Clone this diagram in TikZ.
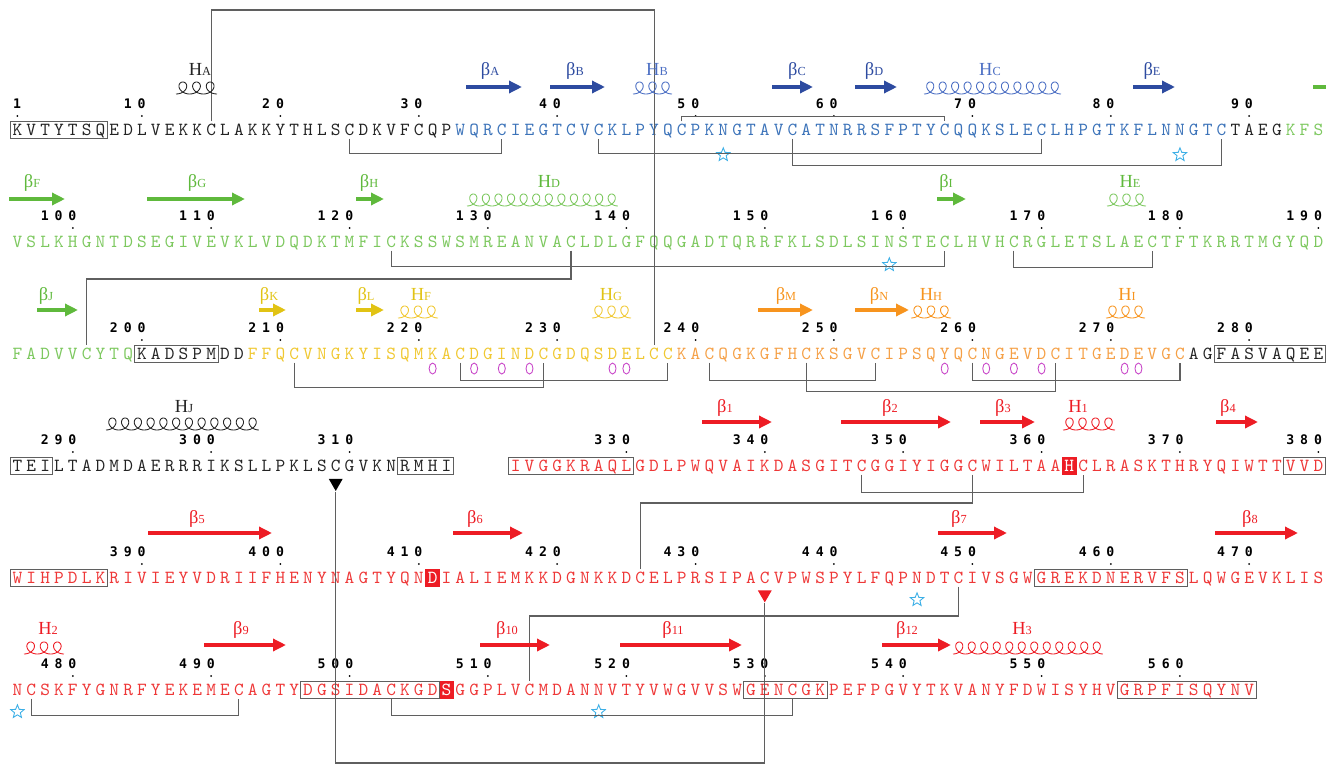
\documentclass[tikz,border=0pt]{standalone}
\usepackage{fontspec}
\newfontfamily\lblfont{Liberation Serif}
\newfontfamily\numfont{DejaVu Sans Mono}
\usetikzlibrary{arrows.meta}
\usetikzlibrary{shapes.geometric}
\usetikzlibrary{positioning}
\usetikzlibrary{fit}
\usetikzlibrary{backgrounds}

\definecolor{seqblack}{RGB}{35,35,35}
\definecolor{seqblue}{RGB}{60,115,185}
\definecolor{arrblue}{RGB}{45,75,160}
\definecolor{hlxblue}{RGB}{75,110,195}
\definecolor{seqgreen}{RGB}{125,200,95}
\definecolor{arrgreen}{RGB}{95,185,60}
\definecolor{seqyellow}{RGB}{240,200,50}
\definecolor{arryellow}{RGB}{225,195,20}
\definecolor{seqorange}{RGB}{245,160,70}
\definecolor{arrorange}{RGB}{247,148,30}
\definecolor{seqred}{RGB}{238,55,55}
\definecolor{arrred}{RGB}{237,28,36}
\definecolor{bondgray}{RGB}{95,95,95}
\definecolor{starblue}{RGB}{60,175,230}
\definecolor{ringpink}{RGB}{200,70,200}

% one node per residue, named r<number>, 95 residues per line
\newcount\rescount
\newcommand{\putseq}[3]{\rescount=#1\relax\def\seqcol{#2}\seqloop#3\relax}
\def\seqloop#1{%
  \ifx#1\relax\else
    \pgfmathtruncatemacro\seqidx{mod(\the\rescount-1,95)}%
    \pgfmathtruncatemacro\seqrow{(\the\rescount-1)/95}%
    \node[res, text=\seqcol] (r\the\rescount) at ({10.5+(\seqidx+0.5)*13.84},{130+112*\seqrow}) {#1};%
    \advance\rescount by 1\relax
    \expandafter\seqloop
  \fi}
\def\digbox#1{\ifx#1\relax\else\makebox[0.2768cm]{#1}\expandafter\digbox\fi}
\newcommand{\numlab}[1]{%
  \edef\numtmp{#1}%
  \pgfmathtruncatemacro\numidx{mod(\numtmp-1,95)}%
  \pgfmathtruncatemacro\numrow{(\numtmp-1)/95}%
  \node[numtxt] (n\numtmp) at ({10.5+(\numidx+1)*13.84},{104+112*\numrow}) {\expandafter\digbox\numtmp\relax};%
  \fill ({10.5+(\numidx+0.5)*13.84},{116+112*\numrow}) circle (1);}
% helix: from x1 to x2 on baseline y, n loops, colour
\newcommand{\hlx}[5]{%
  \pgfmathsetmacro\hlxa{(#2-#1)/(2*pi*#4)}%
  \pgfmathsetmacro\hlxend{2*pi*#4}%
  \pgfmathtruncatemacro\hlxn{36*#4}%
  \draw[#5, line width=0.5pt] plot[domain=0:\hlxend, samples=\hlxn, variable=\t]
    ({#1+\hlxa*\t+3.2*\hlxa*sin(\t r)}, {#3-6*(1-cos(\t r))});}
\newcommand{\sslow}[1]{{\fontsize{7}{8}\selectfont #1}}

\begin{document}
\begin{tikzpicture}[x=0.02cm, y=-0.02cm,
  res/.style={font=\ttfamily\fontsize{10.5}{12}\selectfont, inner sep=0, minimum width=0.2768cm, minimum height=0.33cm, text height=6.4pt, text depth=0pt},
  numtxt/.style={font=\numfont\bfseries\fontsize{7.5}{8}\selectfont, inner sep=0, anchor=east},
  sslab/.style={font=\lblfont\fontsize{10.5}{12}\selectfont, inner sep=0, anchor=base},
  strand/.style={line width=0.09cm, -{Triangle[length=0.26cm, width=0.24cm]}},
  bond/.style={draw=bondgray, line width=0.6pt},
  seqbox/.style={draw=bondgray, line width=0.6pt, inner sep=0},
  starmark/.style={star, star points=5, star point ratio=2.3, draw=starblue, line width=0.5pt, inner sep=0, minimum size=0.28cm},
  ring/.style={ellipse, draw=ringpink, line width=0.5pt, inner sep=0, minimum width=0.14cm, minimum height=0.22cm},
  tri/.style={regular polygon, regular polygon sides=3, shape border rotate=180, inner sep=0, minimum size=0.32cm}]
\useasboundingbox (0,0) rectangle (1340,767);

% sequence
\putseq{1}{seqblack}{KVTYTSQEDLVEKKCLAKKYTHLSCDKVFCQP}
\putseq{33}{seqblue}{WQRCIEGTCVCKLPYQCPKNGTAVCATNRRSFPTYCQQKSLECLHPGTKFLNNGTC}
\putseq{89}{seqblack}{TAEG}
\putseq{93}{seqgreen}{KFS}
\putseq{96}{seqgreen}{VSLKHGNTDSEGIVEVKLVDQDKTMFICKSSWSMREANVACLDLGFQQGADTQRRFKLSDLSINSTECLHVHCRGLETSLAECTFTKRRTMGYQD}
\putseq{191}{seqgreen}{FADVVCYTQ}
\putseq{200}{seqblack}{KADSPMDD}
\putseq{208}{seqyellow}{FFQCVNGKYISQMKACDGINDCGDQSDELCC}
\putseq{239}{seqorange}{KACQGKGFHCKSGVCIPSQYQCNGEVDCITGEDEVGC}
\putseq{276}{seqblack}{AGFASVAQEE}
\putseq{286}{seqblack}{TEILTADMDAERRRIKSLLPKLSCGVKNRMHI}
\putseq{322}{seqred}{IVGGKRAQLGDLPWQVAIKDASGITCGGIYIGGCWILTAA}
\putseq{362}{white}{H}
\putseq{363}{seqred}{CLRASKTHRYQIWTTVVD}
\putseq{381}{seqred}{WIHPDLKRIVIEYVDRIIFHENYNAGTYQN}
\putseq{411}{white}{D}
\putseq{412}{seqred}{IALIEMKKDGNKKDCELPRSIPACVPWSPYLFQPNDTCIVSGWGREKDNERVFSLQWGEVKLIS}
\putseq{476}{seqred}{NCSKFYGNRFYEKEMECAGTYDGSIDACKGD}
\putseq{507}{white}{S}
\putseq{508}{seqred}{GGPLVCMDANNVTYVWGVVSWGENCGKPEFPGVYTKVANYFDWISYHVGRPFISQYNV}

% active site
\begin{pgfonlayer}{background}
\fill[arrred] (r362.south west) rectangle (r362.north east);
\fill[arrred] (r411.south west) rectangle (r411.north east);
\fill[arrred] (r507.south west) rectangle (r507.north east);
\end{pgfonlayer}

% numbering
\numlab{1}
\foreach \n in {10,20,...,310} {\numlab{\n}}
\foreach \n in {330,340,...,560} {\numlab{\n}}

% boxes
\node[seqbox, fit=(r1)(r7)] (bx1) {};
\node[seqbox, fit=(r200)(r205)] (bx2) {};
\node[seqbox, fit=(r278)(r285)] (bx3) {};
\node[seqbox, fit=(r286)(r288)] (bx4) {};
\node[seqbox, fit=(r314)(r317)] (bx5) {};
\node[seqbox, fit=(r322)(r330)] (bx6) {};
\node[seqbox, fit=(r378)(r380)] (bx7) {};
\node[seqbox, fit=(r381)(r387)] (bx8) {};
\node[seqbox, fit=(r455)(r465)] (bx9) {};
\node[seqbox, fit=(r497)(r506)] (bx10) {};
\node[seqbox, fit=(r529)(r534)] (bx11) {};
\node[seqbox, fit=(r556)(r565)] (bx12) {};

% glycosylation stars
\node[starmark, below=0.16cm of r52] (st1) {};
\node[starmark, below=0.16cm of r85] (st2) {};
\node[starmark, below=0.12cm of r159] (st3) {};
\node[starmark, below=0.1cm of r446] (st4) {};
\node[starmark, below=0.1cm of r476] (st5) {};
\node[starmark, below=0.1cm of r518] (st6) {};

% calcium rings
\foreach \k in {221,224,226,228,234,235,258,261,263,265,271,272}
  \node[ring, below=0pt of r\k] (ca\k) {};

% disulfides
\draw[bond] (r15.north) |- (r237.north |- 0,10) -- (r237.north);
\draw[bond] (r25.south) -- ++(0,15) -| (r36.south);
\draw[bond] (r43.south) -- ++(0,15) -| (r75.south);
\draw[bond] (r49.north) -- ++(0,-5) -| (r68.north);
\draw[bond] (r57.south) -- ++(0,27) -| (r88.south);
\draw[bond] (r123.south) -- ++(0,16) -| (r163.south);
\draw[bond] (r136.south) |- (r196.north |- 0,279) -- (r196.north);
\draw[bond] (r168.south) -- ++(0,17) -| (r178.south);
\draw[bond] (r211.south) -- ++(0,25) -| (r229.south);
\draw[bond] (r223.south) -- ++(0,18) -| (r238.south);
\draw[bond] (r241.south) -- ++(0,18) -| (r253.south);
\draw[bond] (r248.south) -- ++(0,29) -| (r266.south);
\draw[bond] (r260.south) -- ++(0,18) -| (r275.south);
\draw[bond] (r347.south) -- ++(0,18) -| (r363.south);
\draw[bond] (r355.south) |- (r426.north |- 0,503) -- (r426.north);
\draw[bond] (r449.south) |- (r513.north |- 0,616) -- (r513.north);
\draw[bond] (r477.south) -- ++(0,17) -| (r492.south);
\draw[bond] (r503.south) -- ++(0,17) -| (r532.south);

% interchain bridge
\node[tri, fill=black, below=0.08cm of r309] (tri1) {};
\node[tri, fill=arrred, below=0.07cm of r435] (tri2) {};
\draw[bond] (tri1.south) |- (tri2.south |- 0,763) -- (tri2.south);

% secondary structure, line 1
\hlx{176}{217}{94}{3}{seqblack}
\node[sslab, text=seqblack] (lHA) at (200,76) {H\sslow{A}};
\draw[strand, arrblue] (466,87) -- (522,87);
\node[sslab, text=arrblue] (lbA) at (490,76) {β\sslow{A}};
\draw[strand, arrblue] (550,87) -- (605,87);
\node[sslab, text=arrblue] (lbB) at (575,76) {β\sslow{B}};
\hlx{633}{672}{94}{3}{hlxblue}
\node[sslab, text=hlxblue] (lHB) at (657,76) {H\sslow{B}};
\draw[strand, arrblue] (772,87) -- (813,87);
\node[sslab, text=arrblue] (lbC) at (797,76) {β\sslow{C}};
\draw[strand, arrblue] (855,87) -- (897,87);
\node[sslab, text=arrblue] (lbD) at (874,76) {β\sslow{D}};
\hlx{924}{1061}{94}{11}{hlxblue}
\node[sslab, text=hlxblue] (lHC) at (990,76) {H\sslow{C}};
\draw[strand, arrblue] (1133,87) -- (1175,87);
\node[sslab, text=arrblue] (lbE) at (1152,76) {β\sslow{E}};
\draw[line width=0.09cm, arrgreen] (1313,87) -- (1326,87);

% line 2
\draw[strand, arrgreen] (9,199) -- (65,199);
\node[sslab, text=arrgreen] (lbF) at (32,188) {β\sslow{F}};
\draw[strand, arrgreen] (147,199) -- (245,199);
\node[sslab, text=arrgreen] (lbG) at (197,188) {β\sslow{G}};
\draw[strand, arrgreen] (356,199) -- (384,199);
\node[sslab, text=arrgreen] (lbH) at (369,188) {β\sslow{H}};
\hlx{467}{618}{206}{12}{seqgreen}
\node[sslab, text=arrgreen] (lHD) at (549,188) {H\sslow{D}};
\draw[strand, arrgreen] (937,199) -- (966,199);
\node[sslab, text=arrgreen] (lbI) at (946,188) {β\sslow{I}};
\hlx{1107}{1146}{206}{3}{seqgreen}
\node[sslab, text=arrgreen] (lHE) at (1130,188) {H\sslow{E}};

% line 3
\draw[strand, arrgreen] (37,310) -- (78,310);
\node[sslab, text=arrgreen] (lbJ) at (46,300) {β\sslow{J}};
\draw[strand, arryellow] (259,310) -- (286,310);
\node[sslab, text=arryellow] (lbK) at (269,300) {β\sslow{K}};
\draw[strand, arryellow] (356,310) -- (384,310);
\node[sslab, text=arryellow] (lbL) at (366,300) {β\sslow{L}};
\hlx{398}{438}{318}{3}{seqyellow}
\node[sslab, text=arryellow] (lHF) at (421,300) {H\sslow{F}};
\hlx{592}{631}{318}{3}{seqyellow}
\node[sslab, text=arryellow] (lHG) at (611,300) {H\sslow{G}};
\draw[strand, arrorange] (758,310) -- (813,310);
\node[sslab, text=arrorange] (lbM) at (786,300) {β\sslow{M}};
\draw[strand, arrorange] (855,310) -- (909,310);
\node[sslab, text=arrorange] (lbN) at (879,300) {β\sslow{N}};
\hlx{911}{951}{318}{3}{arrorange}
\node[sslab, text=arrorange] (lHH) at (931,300) {H\sslow{H}};
\hlx{1106}{1145}{318}{3}{arrorange}
\node[sslab, text=arrorange] (lHI) at (1127,300) {H\sslow{I}};

% line 4
\hlx{106}{259}{430}{12}{seqblack}
\node[sslab, text=seqblack] (lHJ) at (184,412) {H\sslow{J}};
\draw[strand, arrred] (702,422) -- (772,422);
\node[sslab, text=arrred] (lb1) at (725,412) {β\sslow{1}};
\draw[strand, arrred] (841,422) -- (951,422);
\node[sslab, text=arrred] (lb2) at (890,412) {β\sslow{2}};
\draw[strand, arrred] (980,422) -- (1035,422);
\node[sslab, text=arrred] (lb3) at (1003,412) {β\sslow{3}};
\hlx{1063}{1115}{430}{4}{arrred}
\node[sslab, text=arrred] (lH1) at (1078,412) {H\sslow{1}};
\draw[strand, arrred] (1216,422) -- (1258,422);
\node[sslab, text=arrred] (lb4) at (1228,412) {β\sslow{4}};

% line 5
\draw[strand, arrred] (148,533) -- (272,533);
\node[sslab, text=arrred] (lb5) at (197,523) {β\sslow{5}};
\draw[strand, arrred] (453,533) -- (523,533);
\node[sslab, text=arrred] (lb6) at (475,523) {β\sslow{6}};
\draw[strand, arrred] (938,533) -- (1007,533);
\node[sslab, text=arrred] (lb7) at (959,523) {β\sslow{7}};
\draw[strand, arrred] (1215,533) -- (1298,533);
\node[sslab, text=arrred] (lb8) at (1250,523) {β\sslow{8}};

% line 6
\hlx{24}{64}{654}{3}{arrred}
\node[sslab, text=arrred] (lH2) at (48,634) {H\sslow{2}};
\draw[strand, arrred] (204,645) -- (286,645);
\node[sslab, text=arrred] (lb9) at (241,634) {β\sslow{9}};
\draw[strand, arrred] (480,645) -- (550,645);
\node[sslab, text=arrred] (lb10) at (507,634) {β\sslow{10}};
\draw[strand, arrred] (620,645) -- (742,645);
\node[sslab, text=arrred] (lb11) at (673,634) {β\sslow{11}};
\draw[strand, arrred] (882,645) -- (951,645);
\node[sslab, text=arrred] (lb12) at (907,634) {β\sslow{12}};
\hlx{953}{1103}{654}{12}{arrred}
\node[sslab, text=arrred] (lH3) at (1022,634) {H\sslow{3}};
\end{tikzpicture}
\end{document}
